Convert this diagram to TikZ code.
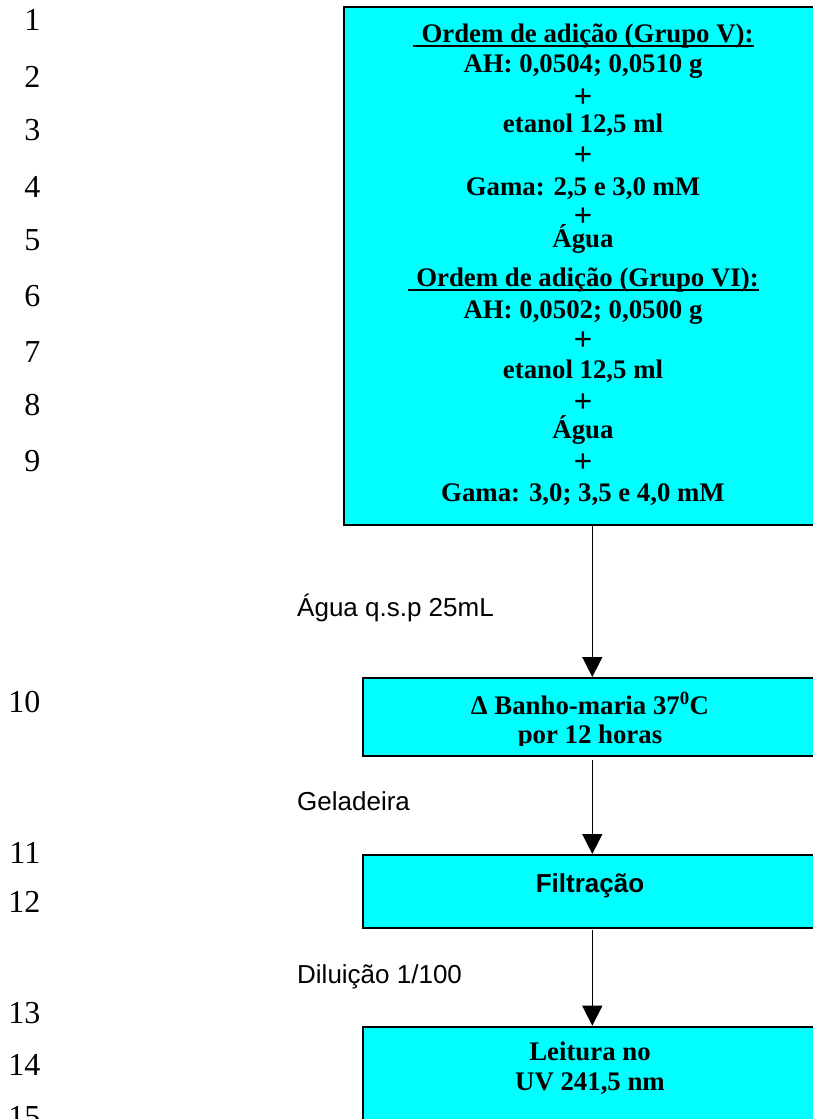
\documentclass[tikz,border=0pt]{standalone}
\usepackage{fontspec}
\setmainfont{Liberation Serif}
\setsansfont{Liberation Sans}
\usetikzlibrary{arrows.meta}
\definecolor{boxcyan}{RGB}{0,255,255}
\begin{document}
\begin{tikzpicture}[x=1pt,y=-1pt,
  flowbox/.style={draw=black, line width=2pt, fill=boxcyan, rectangle, inner sep=0pt, anchor=north west},
  boxtxt/.style={font=\fontsize{26.8}{30}\selectfont\bfseries, inner sep=0pt, anchor=base},
  plustxt/.style={font=\fontsize{33}{36}\selectfont\bfseries, inner sep=0pt, anchor=base},
  boxsans/.style={font=\sffamily\bfseries\fontsize{26}{30}\selectfont, inner sep=0pt, anchor=base},
  sidelbl/.style={font=\sffamily\fontsize{26}{30}\selectfont, inner sep=0pt, anchor=base west},
  linenum/.style={font=\fontsize{32}{36}\selectfont, inner sep=0pt, anchor=base east},
  flowarrow/.style={line width=1.5pt, -{Triangle[length=20pt,width=20pt]}},
  uline/.style={line width=2.2pt}
]
\useasboundingbox (0,0) rectangle (813,1119);
\clip (0,0) rectangle (813,1119);

% line numbers
\node[linenum] (n1) at (40.5,30) {1};
\node[linenum] (n2) at (40.5,87) {2};
\node[linenum] (n3) at (40.5,140) {3};
\node[linenum] (n4) at (40.5,197) {4};
\node[linenum] (n5) at (40.5,250) {5};
\node[linenum] (n6) at (40.5,306) {6};
\node[linenum] (n7) at (40.5,362) {7};
\node[linenum] (n8) at (40.5,415) {8};
\node[linenum] (n9) at (40.5,471) {9};
\node[linenum] (n10) at (40.5,712) {10};
\node[linenum] (n11) at (40.5,863) {11};
\node[linenum] (n12) at (40.5,912) {12};
\node[linenum] (n13) at (40.5,1023) {13};
\node[linenum] (n14) at (40.5,1075) {14};
\node[linenum] (n15) at (40.5,1127) {15};

% boxes
\node[flowbox, minimum width=500pt, minimum height=518.5pt] (b1) at (342.5,5.5) {};
\node[flowbox, minimum width=480pt, minimum height=78pt] (b2) at (361.7,677) {};
\node[flowbox, minimum width=480pt, minimum height=73pt] (b3) at (361.7,854) {};
\node[flowbox, minimum width=480pt, minimum height=120pt] (b4) at (361.7,1025.7) {};

% box 1 text
\node[boxtxt] (o1) at (583.5,42) {\hspace*{8pt}Ordem de adição (Grupo V):};
\draw[uline] ([yshift=-3.8pt]o1.base west) -- ([yshift=-3.8pt]o1.base east);
\node[boxtxt] (t1) at (583,72) {AH: 0,0504; 0,0510 g};
\node[plustxt] (p1) at (583,107) {+};
\node[boxtxt] (t2) at (583,132) {etanol 12,5 ml};
\node[plustxt] (p2) at (583,165.5) {+};
\node[boxtxt] (t3) at (583,195) {Gama: 2,5 e 3,0 mM};
\node[plustxt] (p3) at (583,226.5) {+};
\node[boxtxt] (t4) at (583,247) {Água};
\node[boxtxt] (o2) at (583.5,286) {\hspace*{8pt}Ordem de adição (Grupo VI):};
\draw[uline] ([yshift=-3.8pt]o2.base west) -- ([yshift=-3.8pt]o2.base east);
\node[boxtxt] (t5) at (583,318) {AH: 0,0502; 0,0500 g};
\node[plustxt] (p4) at (583,350.5) {+};
\node[boxtxt] (t6) at (583,378) {etanol 12,5 ml};
\node[plustxt] (p5) at (583,412.5) {+};
\node[boxtxt] (t7) at (583,438) {Água};
\node[plustxt] (p6) at (583,472.5) {+};
\node[boxtxt] (t8) at (583,501) {Gama: 3,0; 3,5 e 4,0 mM};

% box 2 text (clipped at bottom as in the original)
\begin{scope}
\clip (361.7,677) rectangle (842,745);
\node[boxtxt] (t9) at (590,714) {Δ Banho-maria 37\textsuperscript{0}C};
\node[boxtxt] (t10) at (590,743) {por 12 horas};
\end{scope}

% box 3 text
\node[boxsans] (t11) at (590,892) {Filtração};

% box 4 text
\node[boxtxt] (t12) at (590,1060) {Leitura no};
\node[boxtxt] (t13) at (590,1090.7) {UV 241,5 nm};

% side labels
\node[sidelbl] (l1) at (297,616) {Água q.s.p 25mL};
\node[sidelbl] (l2) at (297,810) {Geladeira};
\node[sidelbl] (l3) at (297,983) {Diluição 1/100};

% arrows
\coordinate (ax) at (592.3,0);
\draw[flowarrow] (b1.south -| ax) -- (b2.north -| ax);
\draw[flowarrow] ([yshift=-3pt]b2.south -| ax) -- (b3.north -| ax);
\draw[flowarrow] ([yshift=-1pt]b3.south -| ax) -- (b4.north -| ax);
\end{tikzpicture}
\end{document}
